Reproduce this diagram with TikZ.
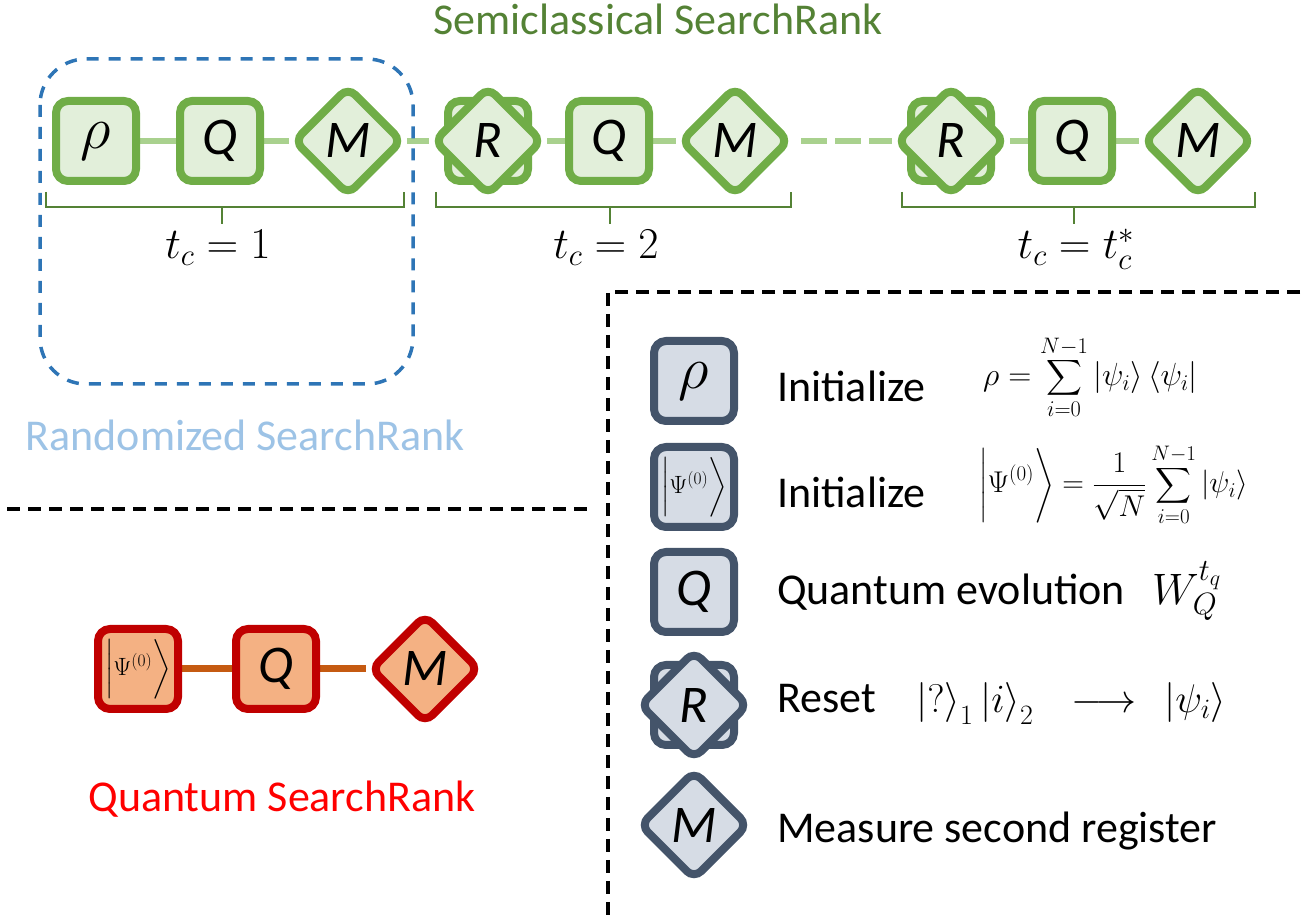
\RequirePackage{fix-cm}
\documentclass[tikz,border=0pt]{standalone}
\usepackage{exscale}
\usepackage[no-math]{fontspec}
\setmainfont{Carlito}
\usetikzlibrary{shapes.geometric,backgrounds}

\definecolor{scline}{HTML}{70AD47}
\definecolor{scfill}{HTML}{E2EFDA}
\definecolor{scwire}{HTML}{A9D18E}
\definecolor{sctext}{HTML}{548235}
\definecolor{lgline}{HTML}{44546A}
\definecolor{lgfill}{HTML}{D6DCE5}
\definecolor{qsline}{HTML}{C00000}
\definecolor{qsfill}{HTML}{F4B183}
\definecolor{qswire}{HTML}{C55A11}
\definecolor{rbline}{HTML}{2E75B6}
\definecolor{rbtext}{HTML}{9DC3E6}

\tikzstyle{sq}=[shape=rectangle,
                rounded corners=12pt,
                line width=8pt,
                minimum width=80pt,
                minimum height=80pt,
                inner sep=0pt,
                font=\fontsize{53}{53}\selectfont\itshape]
\tikzstyle{dm}=[shape=diamond,
                rounded corners=10pt,
                line width=8pt,
                minimum width=110pt,
                minimum height=110pt,
                inner sep=0pt,
                font=\fontsize{53}{53}\selectfont\itshape]
\tikzstyle{sc}=[draw=scline,fill=scfill]
\tikzstyle{lg}=[draw=lgline,fill=lgfill]
\tikzstyle{qs}=[draw=qsline,fill=qsfill]
\tikzstyle{ket}=[font=\fontsize{25}{25}\selectfont]
\tikzstyle{big}=[font=\fontsize{60}{60}\selectfont]
\tikzstyle{txt}=[anchor=base west,inner sep=0pt,font=\fontsize{44}{44}\selectfont]
\tikzstyle{ttl}=[anchor=base,inner sep=0pt,font=\fontsize{44}{44}\selectfont]

\begin{document}
\begin{tikzpicture}[x=1pt,y=1pt]
\useasboundingbox (0,0) rectangle (1310,916);

% semiclassical chain
\node[sq,sc,big] (rho1) at (96,775)  {$\rho$};
\node[sq,sc] (q1)   at (220,775) {Q};
\node[dm,sc] (m1)   at (348,775) {M};
\node[sq,sc] (r2b)  at (488,775) {};
\node[dm,sc] (r2)   at (488,775) {R};
\node[sq,sc] (q2)   at (609,775) {Q};
\node[dm,sc] (m2)   at (735,775) {M};
\node[sq,sc] (r3b)  at (951,775) {};
\node[dm,sc] (r3)   at (951,775) {R};
\node[sq,sc] (q3)   at (1072,775) {Q};
\node[dm,sc] (m3)   at (1198,775) {M};

% quantum chain
\node[sq,qs,ket] (psi0) at (138,247) {$\biggl|\Psi^{(0)}\biggr\rangle$};
\node[sq,qs]     (q0)   at (276,247) {Q};
\node[dm,qs]     (m0)   at (425,247) {M};

% wires
\begin{scope}[on background layer]
\path[draw=scwire,line width=6pt] (rho1) edge (q1)
                                  (q1) edge (m1)
                                  (m1) edge (r2)
                                  (r2) edge (q2)
                                  (q2) edge (m2)
                                  (r3) edge (q3)
                                  (q3) edge (m3);
\draw[draw=scwire,line width=6pt,dash pattern=on 26pt off 8pt,dash phase=27pt] (m2) -- (r3);
\path[draw=qswire,line width=7pt] (psi0) edge (q0)
                                  (q0) edge (m0);
\end{scope}

% brackets
\draw[sctext,line width=1.5pt] (46,724) -- (46,709) -- (404,709) -- (404,724);
\draw[sctext,line width=1.5pt] (222,709) -- (222,692);
\draw[sctext,line width=1.5pt] (436,724) -- (436,709) -- (791,709) -- (791,724);
\draw[sctext,line width=1.5pt] (610,709) -- (610,692);
\draw[sctext,line width=1.5pt] (902,724) -- (902,709) -- (1255,709) -- (1255,724);
\draw[sctext,line width=1.5pt] (1074,709) -- (1074,692);
\node[ttl] (tc1) at (218,657)  {$t_c = 1$};
\node[ttl] (tc2) at (606,657)  {$t_c = 2$};
\node[ttl] (tc3) at (1076,657) {$t_c = t_c^*$};

% randomized box
\draw[rbline,line width=3.5pt,dash pattern=on 12pt off 10pt,rounded corners=46pt] (40,857) rectangle (413,532);

% titles
\node[ttl,text=sctext]  (tsemi) at (658,881) {Semiclassical SearchRank};
\node[ttl,text=rbtext]  (trand) at (245,465) {Randomized SearchRank};
\node[ttl,text=red]     (tquan) at (282,104) {Quantum SearchRank};

% separators
\draw[line width=4pt,dash pattern=on 13pt off 8pt] (7,407) -- (588,407);
\draw[line width=4pt,dash pattern=on 13pt off 8pt] (1300,624) -- (608,624) -- (608,0);

% legend
\node[sq,lg,big] (lrho) at (694,535) {$\rho$};
\node[sq,lg,ket] (lpsi) at (694,429) {$\biggl|\Psi^{(0)}\biggr\rangle$};
\node[sq,lg]     (lq)   at (694,324) {Q};
\node[sq,lg]     (lrb)  at (694,211) {};
\node[dm,lg]     (lr)   at (694,211) {R};
\node[dm,lg]     (lm)   at (694,91)  {M};

\node[txt] (init1) at (777,514) {Initialize};
\node[txt] (init2) at (777,408) {Initialize};
\node[txt] (evol)  at (777,311) {Quantum evolution};
\node[txt] (reset) at (777,203) {Reset};
\node[txt] (meas)  at (777,73)  {Measure second register};

\node[txt,font=\fontsize{32}{32}\selectfont] (frho) at (983,530)
  {$\displaystyle \rho = \sum_{i=0}^{N-1} \left|\psi_i\right\rangle \left\langle\psi_i\right|$};
\node[txt,font=\fontsize{30}{30}\selectfont] (fpsi) at (979,423)
  {$\displaystyle \biggl|\Psi^{(0)}\biggr\rangle = \frac{1}{\sqrt{N}} \sum_{i=0}^{N-1} \left|\psi_i\right\rangle$};
\node[txt,font=\fontsize{44}{44}\selectfont] (fw) at (1152,311) {$W_Q^{t_q}$};
\node[txt,font=\fontsize{40}{40}\selectfont] (freset) at (916,203)
  {$\left|?\right\rangle_1 \left|i\right\rangle_2 \hspace{27pt}\longrightarrow\hspace{17pt} \left|\psi_i\right\rangle$};

\end{tikzpicture}
\end{document}
